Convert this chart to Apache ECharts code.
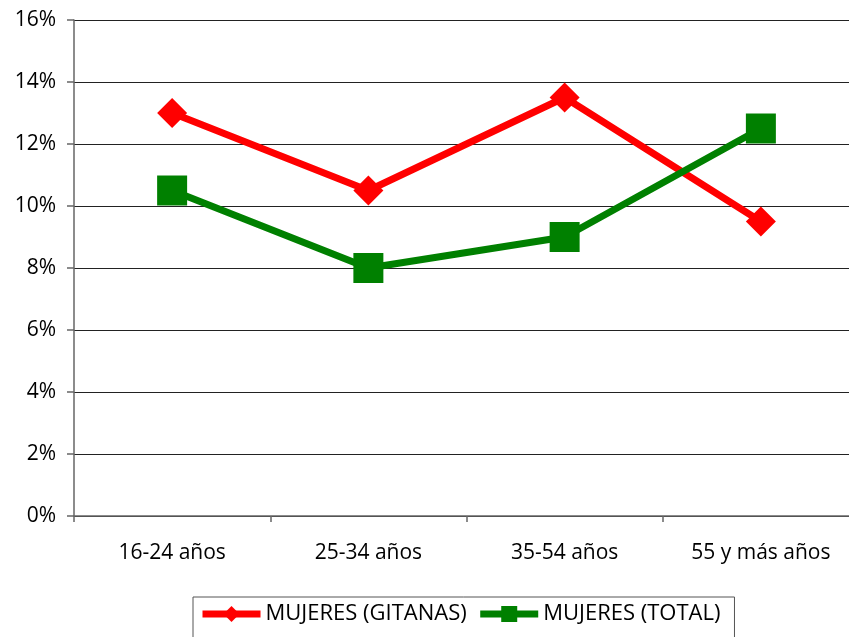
<!DOCTYPE html>
<html>
<head>
<meta charset="utf-8">
<style>
  html, body { margin: 0; padding: 0; background: #fff; }
  #main { width: 849px; height: 637px; }
</style>
<script src="https://cdn.jsdelivr.net/npm/echarts@6/dist/echarts.min.js"></script>
</head>
<body>
<div id="main"></div>
<script>
// datos
var categorias = ["16-24 años", "25-34 años", "35-54 años", "55 y más años"];
var gitanas = [13, 10.5, 13.5, 9.5];
var total = [10.5, 8, 9, 12.5];

var fuente = "'Open Sans', 'Liberation Sans', sans-serif";
var chart = echarts.init(document.getElementById("main"));

chart.setOption({
  animation: false,
  textStyle: { fontFamily: fuente },
  grid: { left: 74, top: 20, width: 785, height: 496, outerBoundsMode: "none" },
  legend: {
    left: 193,
    top: 597,
    width: 620,
    padding: [6, 14, 14, 6],
    borderColor: "#555",
    borderWidth: 1,
    itemGap: 10,
    itemWidth: 58,
    itemHeight: 20,
    lineStyle: { width: 7 },
    textStyle: { fontSize: 22, color: "#000", fontFamily: fuente },
    data: ["MUJERES (GITANAS)", "MUJERES (TOTAL)"]
  },
  xAxis: {
    type: "category",
    data: categorias,
    boundaryGap: true,
    axisLine: { lineStyle: { color: "#666", width: 1.5 } },
    axisTick: { show: true, length: 6, lineStyle: { color: "#666", width: 1.5 } },
    axisLabel: { fontSize: 21, color: "#000", margin: 27 },
    splitLine: { show: false }
  },
  yAxis: {
    type: "value",
    min: 0,
    max: 16,
    interval: 2,
    axisLine: { show: true, lineStyle: { color: "#666", width: 1.5 } },
    axisTick: { show: true, length: 7, lineStyle: { color: "#666", width: 1.5 } },
    axisLabel: { fontSize: 21, color: "#000", margin: 18, formatter: "{value}%" },
    splitLine: { lineStyle: { color: "#222", width: 1.2 } }
  },
  series: [
    {
      name: "MUJERES (GITANAS)",
      type: "line",
      data: gitanas,
      symbol: "diamond",
      symbolSize: 30,
      lineStyle: { color: "#ff0000", width: 7 },
      itemStyle: { color: "#ff0000" }
    },
    {
      name: "MUJERES (TOTAL)",
      type: "line",
      data: total,
      symbol: "rect",
      symbolSize: 30,
      lineStyle: { color: "#008000", width: 7 },
      itemStyle: { color: "#008000" }
    }
  ]
});
</script>
</body>
</html>
